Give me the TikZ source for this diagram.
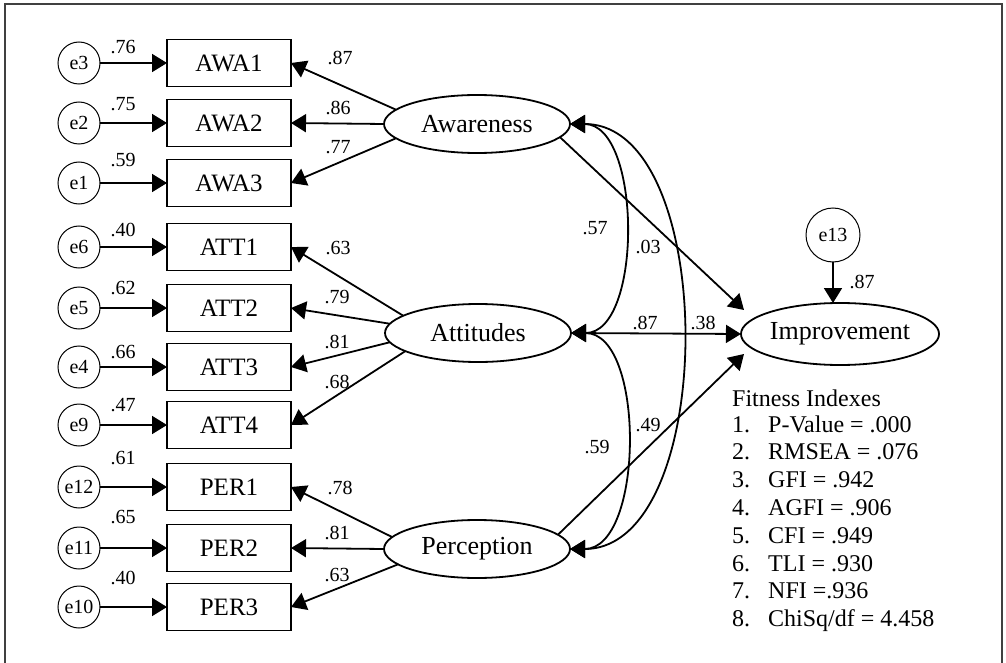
\documentclass[tikz,border=0pt]{standalone}
\usepackage{fontspec}
\setmainfont{Liberation Serif}
\usetikzlibrary{arrows.meta,shapes.geometric}

\begin{document}
\begin{tikzpicture}[x=1pt,y=-1pt,
  >={Triangle[length=15pt,width=18pt]},
  link/.style={->,line width=1.8pt},
  obs/.style={draw,line width=1.2pt,minimum width=124pt,minimum height=47pt,inner sep=0pt,outer sep=0pt,font=\fontsize{25}{30}\selectfont},
  lat/.style={draw,ellipse,line width=1.8pt,minimum width=186pt,minimum height=58pt,inner sep=0pt,outer sep=0pt,font=\fontsize{26}{31}\selectfont},
  err/.style={draw,circle,line width=1pt,minimum size=42pt,inner sep=0pt,outer sep=0pt,font=\fontsize{20}{24}\selectfont},
  coef/.style={inner sep=0pt,font=\fontsize{20}{24}\selectfont},
  fitline/.style={anchor=base west,inner sep=0pt,font=\fontsize{24}{29}\selectfont}]
\useasboundingbox (0,0) rectangle (1006,663);
\clip (0,0) rectangle (1006,663);
\draw[line width=1.2pt,black!75] (5,700) -- (5,4) -- (1002,4) -- (1002,700);

% latent factors
\node[lat] (aw) at (477,124) {Awareness};
\node[lat] (att) at (478,333) {Attitudes};
\node[lat] (per) at (477,549) {Perception};
\node[lat,minimum width=184pt,minimum height=62pt] (imp) at (840,334) {Improvement};
\node[err,minimum size=54pt] (e13) at (833,235) {e13};

% items, error terms and loadings
\foreach \item/\lv/\ang/\ld/\lx/\ly/\e/\y/\r/\ry in {
  AWA1/aw/170/.87/340/58/e3/63/.76/47,
  AWA2/aw/180/.86/338/108/e2/123/.75/104,
  AWA3/aw/190/.77/338/147/e1/183/.59/160,
  ATT1/att/167/.63/338/248/e6/247/.40/230,
  ATT2/att/174/.79/337/297/e5/308/.62/288,
  ATT3/att/186/.81/337/342/e4/367/.66/352,
  ATT4/att/194/.68/337/382/e9/425/.47/405,
  PER1/per/172/.78/340/488/e12/487/.61/458,
  PER2/per/180/.81/337/533/e11/548/.65/517,
  PER3/per/191/.63/337/575/e10/607/.40/578}
{
  \node[obs] (\item) at (229,\y) {\item};
  \node[err] (\e) at (79,\y) {\e};
  \draw[link] (\e) -- (\item);
  \draw[link] (\lv.\ang) -- (\item.east);
  \node[coef] at (123,\ry) {\r};
  \node[coef] at (\lx,\ly) {\ld};
}

% covariances
\draw[link,<->] (aw.east) to[out=0,in=0,looseness=0.88] (att.east);
\draw[link,<->] (aw.east) to[out=0,in=0,looseness=0.9] (per.east);
\draw[link,<->] (att.east) to[out=0,in=0,looseness=0.88] (per.east);

% paths to improvement
\coordinate (imp1) at (744,310);
\coordinate (imp3) at (744,354);
\draw[link] (aw.351) -- (imp1);
\draw[link] (att.east) -- (imp.west);
\draw[link] (per.10) -- (imp3);
\draw[link] (e13.south) -- (e13.south |- imp.north);

\node[coef] at (595,228) {.57};
\node[coef] at (648,247) {.03};
\node[coef] at (645,323) {.87};
\node[coef] at (703,323) {.38};
\node[coef] at (597,447) {.59};
\node[coef] at (648,425) {.49};
\node[coef] at (862,282) {.87};

% fit indexes
\node[fitline] (fit) at (732,406) {Fitness Indexes};
\foreach \v [count=\i] in {P-Value = .000, RMSEA = .076, GFI = .942, AGFI = .906,
  CFI = .949, TLI = .930, NFI =.936, ChiSq/df = 4.458}
{
  \node[fitline] (num\i) at (732,{432+(\i-1)*27.8}) {\i.};
  \node[fitline] (val\i) at (768,{432+(\i-1)*27.8}) {\v};
}
\end{tikzpicture}
\end{document}
